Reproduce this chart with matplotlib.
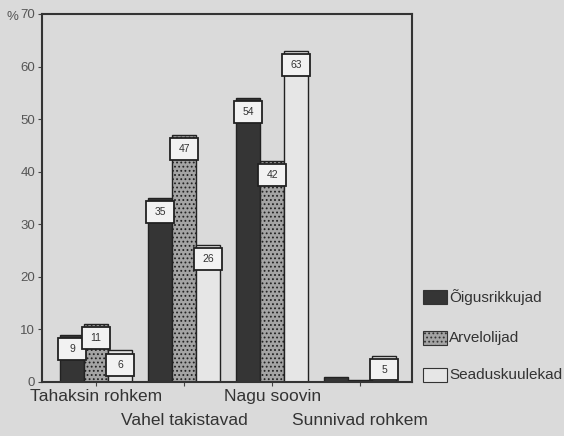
import matplotlib

matplotlib.use("Agg")
import matplotlib.pyplot as plt
import numpy as np
from matplotlib.patches import Rectangle

plt.rcParams["font.family"] = ["Liberation Sans", "DejaVu Sans"]
plt.rcParams["hatch.color"] = "#7a7a7a"
plt.rcParams["hatch.linewidth"] = 0.8

# --- data ----------------------------------------------------------------- #
categories = ["Tahaksin rohkem", "Vahel takistavad", "Nagu soovin", "Sunnivad rohkem"]
series_names = ["Õigusrikkujad", "Arvelolijad", "Seaduskuulekad"]
oigusrikkujad = [9, 35, 54, 1]
arvelolijad = [11, 47, 42, 0.4]
seaduskuulekad = [6, 26, 63, 5]
yticks = [0, 10, 20, 30, 40, 50, 60, 70]

BG = "#dadada"
faces = ["#353535", "#a4a4a4", "#e6e6e6"]
hatches = [None, "....", None]

fig = plt.figure(figsize=(5.64, 4.36), dpi=100, facecolor=BG)
ax = fig.add_axes([0.0745, 0.124, 0.656, 0.844], facecolor=BG)

x = np.arange(len(categories))
w = 0.273
series = [oigusrikkujad, arvelolijad, seaduskuulekad]
for i, vals in enumerate(series):
    pos = x + (i - 1) * w
    ax.bar(pos, vals, width=w, color=faces[i], edgecolor="#222222",
           linewidth=1.0, hatch=hatches[i], label=series_names[i], zorder=2)
    for px, v in zip(pos, vals):
        if v < 2:
            continue
        top = v - 0.6
        bot = max(top - 4.2, 0.3)
        bw = w * 1.15
        ax.add_patch(Rectangle((px - bw / 2, bot), bw, top - bot,
                               facecolor="#f2f2f2", edgecolor="#222222",
                               linewidth=1.3, zorder=3))
        ax.text(px, (top + bot) / 2, f"{v:g}", ha="center", va="center",
                fontsize=7.5, color="#333333", zorder=4)

ax.set_xlim(-0.614, 3.59)
ax.set_ylim(0, 70)
ax.set_yticks(yticks)
ax.set_yticklabels([str(t) for t in yticks], fontsize=9.5, color="#555555")
ax.tick_params(axis="y", length=3, width=0.8, color="#444444", pad=2)
ax.set_xticks(x)
ax.set_xticklabels([])
ax.tick_params(axis="x", length=3, width=0.8, color="#444444")
for sp in ax.spines.values():
    sp.set_linewidth(1.5)
    sp.set_color("#333333")

# staggered category labels
for i, cat in enumerate(categories):
    dy = -0.04 if i % 2 == 0 else -0.105
    ax.text(i, dy, cat, transform=ax.get_xaxis_transform(), ha="center",
            va="center", fontsize=12.5, color="#333333", clip_on=False)

fig.text(0.012, 0.962, "%", fontsize=9.5, color="#555555", va="center")

# legend as patches beside the axes
leg_y = [297, 338, 375]
for i, name in enumerate(series_names):
    yy = 1 - leg_y[i] / 436
    fig.patches.append(Rectangle((423 / 564, yy - 7 / 436), 24 / 564, 14 / 436,
                                 transform=fig.transFigure, facecolor=faces[i],
                                 hatch=hatches[i], edgecolor="#333333",
                                 linewidth=0.8))
    fig.text(449 / 564, yy, name, fontsize=11, color="#333333", va="center")

fig.savefig("out.png", dpi=100, facecolor=BG)
